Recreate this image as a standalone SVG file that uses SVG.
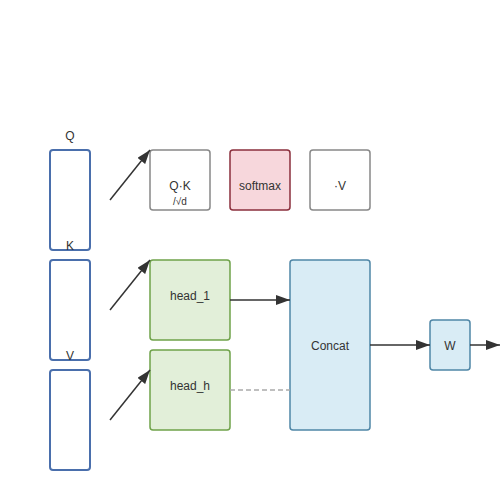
<svg xmlns="http://www.w3.org/2000/svg" width="500" height="500" viewBox="0 0 500 500">
<defs>
<marker id="ah2" markerWidth="14" markerHeight="10" refX="14" refY="5" orient="auto" markerUnits="userSpaceOnUse" viewBox="0 0 14 10">
<path d="M0,0 L14,5 L0,10 Z" fill="#333"/>
</marker>
</defs>
<style>
text{font-family:"Liberation Sans",Arial,sans-serif;font-size:12px;fill:#333;text-anchor:middle}
.in{fill:#fff;stroke:#4a6fac;stroke-width:2}
.op{fill:#fff;stroke:#888;stroke-width:1.5}
.sm{fill:#f7d7dc;stroke:#8b2f3c;stroke-width:1.5}
.hd{fill:#e2efd9;stroke:#6fa24a;stroke-width:1.5}
.bl{fill:#d9ecf5;stroke:#4f86a6;stroke-width:1.5}
.c{stroke:#333;stroke-width:1.5;fill:none}
</style>
<rect width="500" height="500" fill="#fff"/>
<g id="Q"><rect class="in" x="50" y="150" width="40" height="100" rx="3"/><text x="70" y="140">Q</text></g>
<g id="K"><rect class="in" x="50" y="260" width="40" height="100" rx="3"/><text x="70" y="250">K</text></g>
<g id="V"><rect class="in" x="50" y="370" width="40" height="100" rx="3"/><text x="70" y="360">V</text></g>
<g id="qk"><rect class="op" x="150" y="150" width="60" height="60" rx="3"/><text x="180" y="190">Q·K</text><text x="180" y="205" style="font-size:10px">/√d</text></g>
<g id="softmax"><rect class="sm" x="230" y="150" width="60" height="60" rx="3"/><text x="260" y="190">softmax</text></g>
<g id="dotv"><rect class="op" x="310" y="150" width="60" height="60" rx="3"/><text x="340" y="190">·V</text></g>
<g id="head1"><rect class="hd" x="150" y="260" width="80" height="80" rx="3"/><text x="190" y="300">head_1</text></g>
<g id="headh"><rect class="hd" x="150" y="350" width="80" height="80" rx="3"/><text x="190" y="390">head_h</text></g>
<g id="concat"><rect class="bl" x="290" y="260" width="80" height="170" rx="3"/><text x="330" y="350">Concat</text></g>
<g id="W"><rect class="bl" x="430" y="320" width="40" height="50" rx="3"/><text x="450" y="350">W</text></g>
<g id="connectors">
<line class="c" x1="110" y1="200" x2="150" y2="150" marker-end="url(#ah2)"/>
<line class="c" x1="110" y1="310" x2="150" y2="260" marker-end="url(#ah2)"/>
<line class="c" x1="110" y1="420" x2="150" y2="370" marker-end="url(#ah2)"/>
<line class="c" x1="230" y1="300" x2="290" y2="300" marker-end="url(#ah2)"/>
<line x1="230" y1="390" x2="290" y2="390" stroke="#aaa" stroke-width="1.5" stroke-dasharray="5,3"/>
<line class="c" x1="370" y1="345" x2="430" y2="345" marker-end="url(#ah2)"/>
<line class="c" x1="470" y1="345" x2="500" y2="345" marker-end="url(#ah2)"/>
</g>
</svg>
